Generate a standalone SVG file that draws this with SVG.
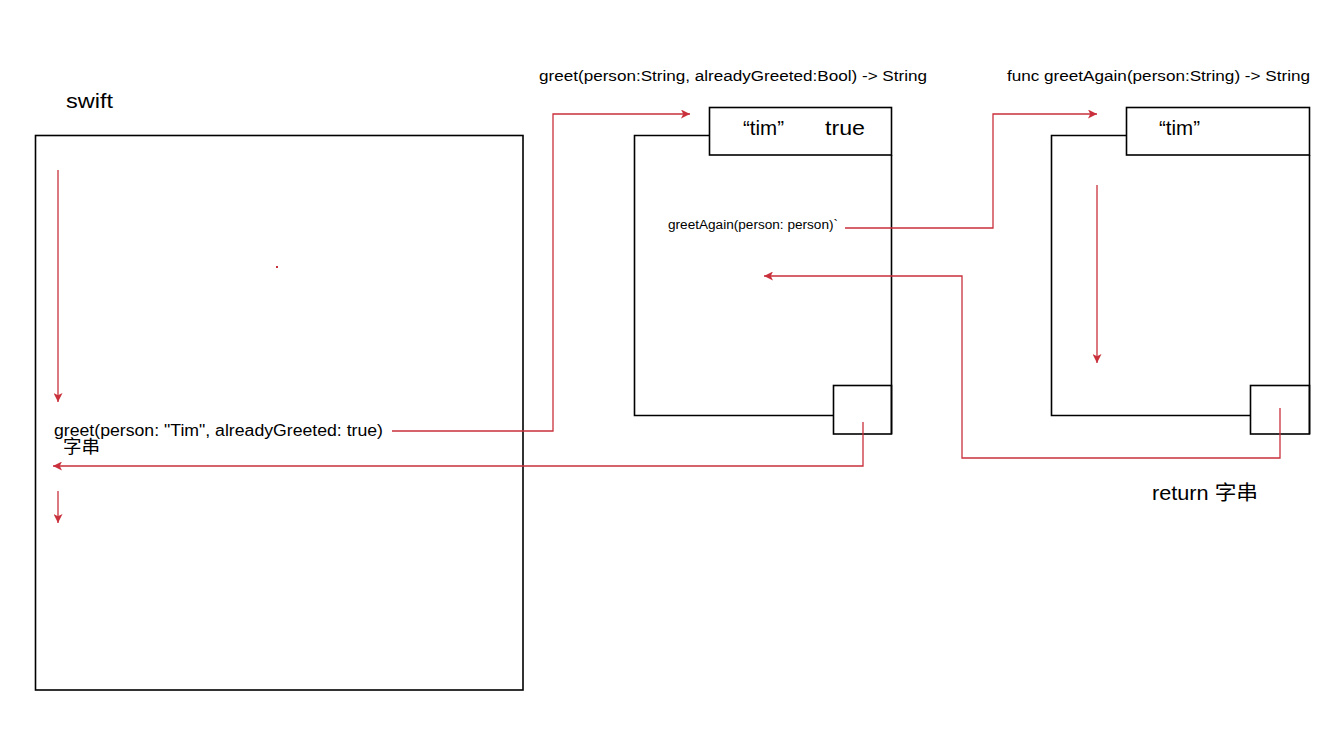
<svg xmlns="http://www.w3.org/2000/svg" width="1343" height="732" viewBox="0 0 1343 732">
<style>
.box{fill:none;stroke:#000;stroke-width:1.6}
.hdr{fill:#fff;stroke:#000;stroke-width:1.6}
.con{fill:none;stroke:#c9303b;stroke-width:1.3}
.t{font-family:"Liberation Sans","Noto Sans CJK SC",sans-serif;fill:#000}
</style>
<defs>
<marker id="ah" viewBox="0 0 10 10" refX="10" refY="5" markerWidth="11" markerHeight="9" markerUnits="userSpaceOnUse" orient="auto">
<path d="M0,0 L10,5 L0,10 L2.5,5 z" fill="#c9303b"/>
</marker>
</defs>
<rect width="1343" height="732" fill="#fff"/>
<g id="swift">
<text class="t" x="66" y="108" font-size="21" textLength="47" lengthAdjust="spacingAndGlyphs">swift</text>
<rect class="box" x="35.5" y="135.5" width="487.5" height="554.5"/>
<text class="t" x="54" y="436" font-size="16" textLength="329" lengthAdjust="spacingAndGlyphs">greet(person: "Tim", alreadyGreeted: true)</text>
<text class="t" x="63" y="453" font-size="18" textLength="37" lengthAdjust="spacingAndGlyphs">字串</text>
<rect x="276" y="266" width="2" height="2" fill="#c9303b"/>
</g>
<g id="greet">
<text class="t" x="539" y="81" font-size="15.5" textLength="388" lengthAdjust="spacingAndGlyphs">greet(person:String, alreadyGreeted:Bool) -&gt; String</text>
<path class="box" d="M709,135.5 H634.5 V415.5 H833 M891.5,155 V434"/>
<rect class="hdr" x="709.5" y="107.5" width="182" height="47.5"/>
<rect class="box" x="833.5" y="385.5" width="58" height="48.5"/>
<text class="t" x="743" y="135" font-size="21" textLength="41" lengthAdjust="spacingAndGlyphs">“tim”</text>
<text class="t" x="825" y="135" font-size="21" textLength="40" lengthAdjust="spacingAndGlyphs">true</text>
<text class="t" x="668" y="229" font-size="12.5" textLength="170" lengthAdjust="spacingAndGlyphs">greetAgain(person: person)`</text>
</g>
<g id="greetAgain">
<text class="t" x="1007" y="81" font-size="15.5" textLength="303" lengthAdjust="spacingAndGlyphs">func greetAgain(person:String) -&gt; String</text>
<path class="box" d="M1126,135.5 H1051.5 V415.5 H1250 M1309.5,155 V434"/>
<rect class="hdr" x="1126.5" y="107.5" width="183" height="47.5"/>
<rect class="box" x="1250.5" y="385.5" width="59" height="48.5"/>
<text class="t" x="1159" y="135" font-size="21" textLength="41" lengthAdjust="spacingAndGlyphs">“tim”</text>
<text class="t" x="1152" y="500" font-size="20" textLength="106" lengthAdjust="spacingAndGlyphs">return 字串</text>
</g>
<g id="connectors">
<path class="con" d="M58,170 V402" marker-end="url(#ah)"/>
<path class="con" d="M58,491 V523" marker-end="url(#ah)"/>
<path class="con" d="M392,431 H553 V114 H690" marker-end="url(#ah)"/>
<path class="con" d="M863,422 V466 H53" marker-end="url(#ah)"/>
<path class="con" d="M845,228 H993 V114 H1097" marker-end="url(#ah)"/>
<path class="con" d="M1280,408 V458 H962 V276 H764" marker-end="url(#ah)"/>
<path class="con" d="M1097,185 V363" marker-end="url(#ah)"/>
</g>
</svg>
